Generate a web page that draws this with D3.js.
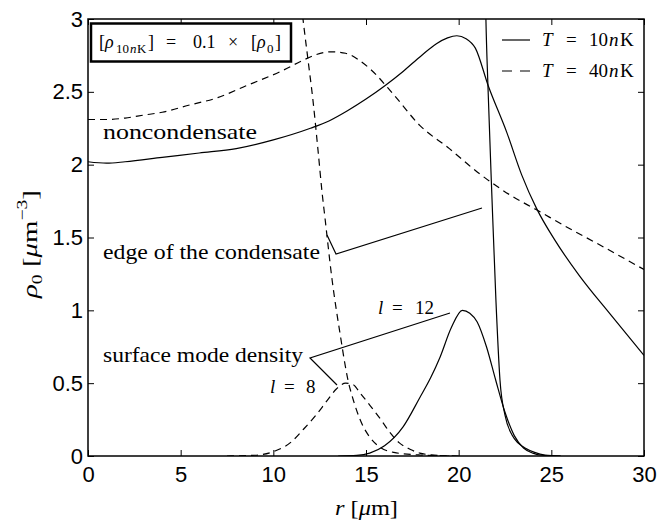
<!DOCTYPE html>
<html><head><meta charset="utf-8">
<script src="https://cdn.jsdelivr.net/npm/d3@7"></script>
<style>body{margin:0;background:#fff}</style>
</head><body>
<svg id="c" width="662" height="529"></svg>
<script>
// ---------- data ----------
const xTicks = [0, 5, 10, 15, 20, 25, 30];
const yTicks = [0, 0.5, 1, 1.5, 2, 2.5, 3];
const yTickLabels = ["0", "0.5", "1", "1.5", "2", "2.5", "3"];

// T = 10 nK, noncondensate (solid)
const r10Non   = [0, 1, 2, 4, 6, 8, 10, 12, 13, 14, 15, 16, 17, 18, 18.8, 19.4, 19.9, 20.4, 20.9, 21.6, 22.6, 23.4, 24.2, 25.2, 26.5, 28.2, 30];
const rho10Non = [2.02, 2.01, 2.02, 2.05, 2.08, 2.11, 2.17, 2.25, 2.30, 2.37, 2.45, 2.54, 2.64, 2.75, 2.83, 2.87, 2.885, 2.865, 2.80, 2.54, 2.22, 1.93, 1.70, 1.48, 1.24, 0.97, 0.69];

// T = 40 nK, noncondensate (dashed)
const r40Non   = [0, 1, 2, 3, 4, 5.5, 7, 8.5, 10.4, 11.5, 12.3, 13.1, 13.9, 14.6, 15.2, 16.5, 17.9, 19.5, 21, 22.8, 24.2, 26, 27.6, 30];
const rho40Non = [2.31, 2.31, 2.32, 2.34, 2.36, 2.41, 2.46, 2.54, 2.64, 2.71, 2.755, 2.775, 2.765, 2.72, 2.66, 2.48, 2.27, 2.11, 1.95, 1.79, 1.69, 1.56, 1.45, 1.28];

// T = 10 nK, condensate edge (solid, scaled x0.1)
const r10Con   = [21.4, 21.47, 21.58, 21.8, 22.01, 22.23, 22.5, 22.88, 23.2, 23.58, 24.1, 24.66, 25.5];
const rho10Con = [3.5, 3.0, 2.54, 1.76, 1.07, 0.52, 0.28, 0.144, 0.09, 0.055, 0.025, 0.007, 0];

// T = 40 nK, condensate edge (dashed)
const r40Con   = [11.3, 11.6, 11.87, 12.14, 12.41, 12.63, 12.8, 13.17, 13.6, 14.03, 14.35, 14.68, 15.2, 15.76, 16.5, 17.9, 20];
const rho40Con = [3.35, 3.0, 2.72, 2.44, 2.10, 1.81, 1.62, 1.21, 0.84, 0.52, 0.37, 0.25, 0.13, 0.06, 0.025, 0.007, 0];

// surface mode density l = 12 (solid, 10 nK)
const rL12   = [13.5, 14.5, 15.2, 16, 17, 17.9, 18.5, 19, 19.6, 20.2, 20.6, 21, 21.5, 22, 22.5, 23, 23.5, 24, 24.5, 25.5];
const rhoL12 = [0, 0.004, 0.02, 0.07, 0.20, 0.40, 0.54, 0.68, 0.88, 1.0, 0.98, 0.92, 0.75, 0.52, 0.30, 0.14, 0.055, 0.02, 0.005, 0];

// surface mode density l = 8 (dashed, 40 nK)
const rL8   = [7.5, 9, 10, 11, 11.6, 12.3, 12.9, 13.4, 13.9, 14.3, 14.7, 15.2, 15.8, 16.3, 16.8, 17.4, 17.9, 18.5, 19.5];
const rhoL8 = [0, 0.005, 0.03, 0.10, 0.18, 0.28, 0.38, 0.46, 0.50, 0.49, 0.43, 0.35, 0.25, 0.16, 0.09, 0.045, 0.02, 0.008, 0];

const series = [
  {r: r10Non, v: rho10Non, dash: null},
  {r: r40Non, v: rho40Non, dash: "7,5"},
  {r: r10Con, v: rho10Con, dash: null},
  {r: r40Con, v: rho40Con, dash: "7,5"},
  {r: rL12,   v: rhoL12,   dash: null},
  {r: rL8,    v: rhoL8,    dash: "7,5"}
];

// ---------- layout ----------
const svg = d3.select("#c");
const L = 88, R = 644, T = 19, B = 456;
const x = d3.scaleLinear().domain([0, 30]).range([L, R]);
const y = d3.scaleLinear().domain([0, 3]).range([B, T]);
const SANS = "'Liberation Sans', Arial, sans-serif";
const SERIF = "'Liberation Serif', 'Times New Roman', serif";

svg.append("rect").attr("width", 662).attr("height", 529).attr("fill", "#fff");

svg.append("clipPath").attr("id", "clip")
  .append("rect").attr("x", L).attr("y", T).attr("width", R - L).attr("height", B - T);

// axes
function styleAxis(g) {
  g.select(".domain").remove();
  g.selectAll(".tick line").attr("stroke", "#000").attr("stroke-width", 1);
  g.selectAll(".tick text").attr("font-family", SANS).attr("font-size", 22).attr("fill", "#000");
}
svg.append("g").attr("transform", `translate(0,${B})`)
  .call(d3.axisBottom(x).tickValues(xTicks).tickSizeInner(-6).tickSizeOuter(0).tickPadding(10).tickFormat(d3.format("d")))
  .call(styleAxis);
svg.append("g").attr("transform", `translate(0,${T})`)
  .call(d3.axisTop(x).tickValues(xTicks).tickSizeInner(-6).tickSizeOuter(0).tickFormat(""))
  .call(styleAxis);
svg.append("g").attr("transform", `translate(${L},0)`)
  .call(d3.axisLeft(y).tickValues(yTicks).tickSizeInner(-6).tickSizeOuter(0).tickPadding(5)
    .tickFormat((d, i) => yTickLabels[i]))
  .call(styleAxis);
svg.append("g").attr("transform", `translate(${R},0)`)
  .call(d3.axisRight(y).tickValues(yTicks).tickSizeInner(-6).tickSizeOuter(0).tickFormat(""))
  .call(styleAxis);

// curves
const line = d3.line().x(d => x(d[0])).y(d => y(d[1])).curve(d3.curveMonotoneX);
const plot = svg.append("g").attr("clip-path", "url(#clip)");
series.forEach(s => {
  plot.append("path")
    .datum(s.r.map((r, i) => [r, s.v[i]]))
    .attr("d", line)
    .attr("fill", "none").attr("stroke", "#000").attr("stroke-width", 1.2)
    .attr("stroke-dasharray", s.dash);
});

// frame
svg.append("rect").attr("x", L).attr("y", T).attr("width", R - L).attr("height", B - T)
  .attr("fill", "none").attr("stroke", "#000").attr("stroke-width", 1.5);

// helper: text made of parts at explicit x
function parts(g, baseline, size, list) {
  list.forEach(p => {
    const fs = p.s ? size * 0.72 : size;
    const dy = p.s === "sub" ? size * 0.25 : (p.s === "sup" ? -size * 0.4 : 0);
    g.append("text").attr("x", p.x).attr("y", baseline + dy)
      .attr("font-family", SERIF).attr("font-size", fs)
      .attr("font-style", p.i ? "italic" : "normal").attr("fill", "#000").text(p.t);
  });
}

// box annotation
svg.append("rect").attr("x", 91).attr("y", 23.5).attr("width", 200).attr("height", 38)
  .attr("fill", "#fff").attr("stroke", "#000").attr("stroke-width", 2.5);
const bx = svg.append("g");
parts(bx, 48, 18, [
  {t: "[", x: 99}, {t: "ρ", x: 105, i: 1}, {t: "10", x: 116, s: "sub"}, {t: "n", x: 130, s: "sub", i: 1},
  {t: "K", x: 137, s: "sub"}, {t: "]", x: 148}, {t: "=", x: 166}, {t: "0.1", x: 193},
  {t: "×", x: 228}, {t: "[", x: 251}, {t: "ρ", x: 257, i: 1}, {t: "0", x: 267, s: "sub"}, {t: "]", x: 275}
]);

// legend
const lg = svg.append("g");
lg.append("line").attr("x1", 502).attr("x2", 530).attr("y1", 40).attr("y2", 40).attr("stroke", "#000").attr("stroke-width", 1.2);
lg.append("line").attr("x1", 502).attr("x2", 530).attr("y1", 71).attr("y2", 71).attr("stroke", "#000").attr("stroke-width", 1.2).attr("stroke-dasharray", "10,8");
[["10", 46], ["40", 77]].forEach(([v, bl]) => {
  parts(lg, bl, 19, [
    {t: "T", x: 542, i: 1}, {t: "=", x: 566}, {t: v, x: 589}, {t: "n", x: 609, i: 1}, {t: "K", x: 620}
  ]);
});

// text labels
function label(txt, xx, yy, len) {
  svg.append("text").attr("x", xx).attr("y", yy).attr("font-family", SERIF).attr("font-size", 21)
    .attr("fill", "#000").attr("textLength", len).attr("lengthAdjust", "spacingAndGlyphs").text(txt);
}
label("noncondensate", 103, 139, 154);
label("edge of the condensate", 103, 259, 217);
label("surface mode density", 103, 362, 200);

// annotation lines
const ann = svg.append("g").attr("fill", "none").attr("stroke", "#000").attr("stroke-width", 1.2);
ann.append("path").attr("d", d3.line()([[327, 235], [336, 254], [482, 208]]));
ann.append("path").attr("d", d3.line()([[450, 313], [310, 358], [337, 385]]));

const ml = svg.append("g");
parts(ml, 314, 19, [{t: "l", x: 378, i: 1}, {t: "=", x: 392}, {t: "12", x: 415}]);
parts(ml, 393, 19, [{t: "l", x: 270, i: 1}, {t: "=", x: 284}, {t: "8", x: 306}]);

// axis titles
const xt = svg.append("text").attr("x", 335).attr("y", 515)
  .attr("font-family", SERIF).attr("font-size", 22).attr("fill", "#000")
  .attr("textLength", 63).attr("lengthAdjust", "spacingAndGlyphs");
xt.append("tspan").attr("font-style", "italic").text("r");
xt.append("tspan").text(" [");
xt.append("tspan").attr("font-style", "italic").text("μ");
xt.append("tspan").text("m]");

const yt = svg.append("text").attr("transform", "translate(37,298) rotate(-90)")
  .attr("font-family", SERIF).attr("font-size", 22).attr("fill", "#000")
  .attr("textLength", 108).attr("lengthAdjust", "spacingAndGlyphs");
yt.append("tspan").attr("font-style", "italic").text("ρ");
yt.append("tspan").attr("font-size", 15).attr("dy", 5).text("0");
yt.append("tspan").attr("dy", -5).text(" [");
yt.append("tspan").attr("font-style", "italic").text("μ");
yt.append("tspan").text("m");
yt.append("tspan").attr("font-size", 15).attr("dy", -10).text("−3");
yt.append("tspan").attr("dy", 10).text("]");
</script>
</body></html>
